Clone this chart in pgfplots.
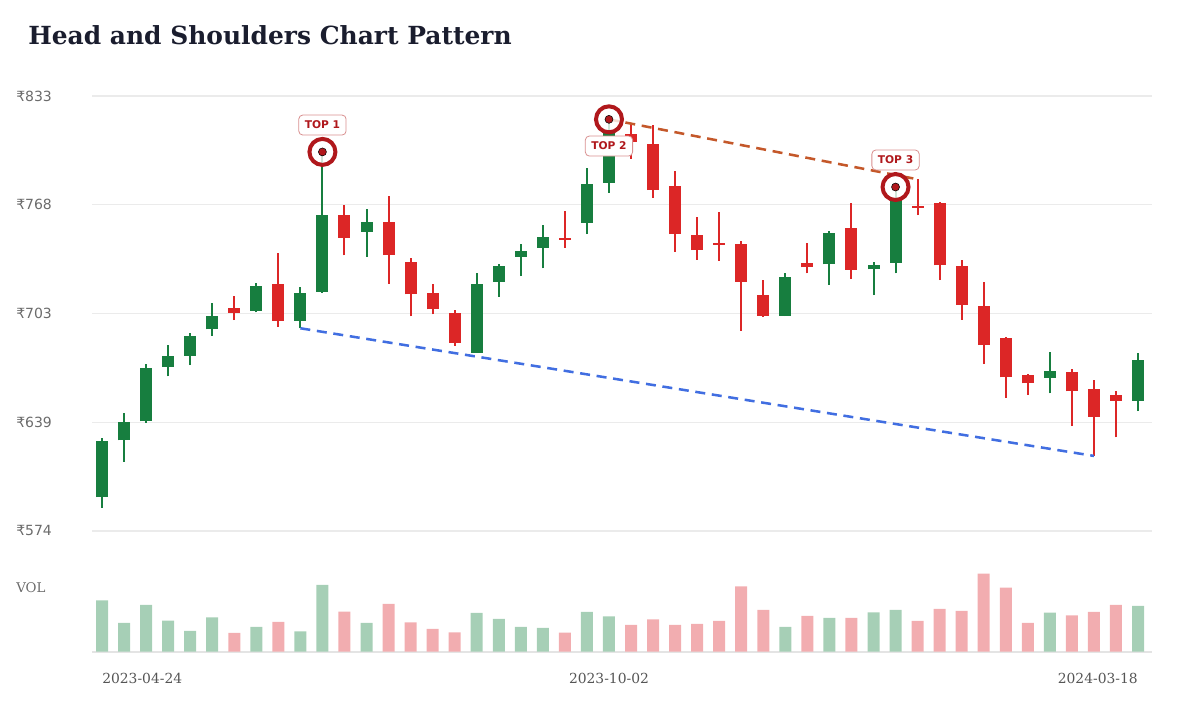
\documentclass[border=0pt]{standalone}
\usepackage{fontspec}
\setmainfont{DejaVu Serif}
\newfontfamily\sansf{DejaVu Sans}
\usepackage{pgfplots}
\usepackage{pgfplotstable}
\pgfplotsset{compat=1.18}

\definecolor{ctitle}{HTML}{1A1D2E}
\definecolor{ctick}{HTML}{6B6B6B}
\definecolor{cdate}{HTML}{555555}
\definecolor{cgrid}{HTML}{EBEBEB}
\definecolor{cbase}{HTML}{E4E4E4}
\definecolor{cgreen}{HTML}{177E3F}
\definecolor{cred}{HTML}{DC2626}
\definecolor{cvgreen}{HTML}{A6CFB6}
\definecolor{cvred}{HTML}{F2ADB0}
\definecolor{cmark}{HTML}{B0181C}
\definecolor{clabbd}{HTML}{D99090}
\definecolor{cblue}{HTML}{416EE1}
\definecolor{corange}{HTML}{C4582A}

% weekly candles, i = week index from 2023-04-24
\pgfplotstableread{
i  O     H     L     C     V
0  594.2 629.4 587.7 627.6 51.4
1  628.0 644.4 615.3 638.7 28.7
2  639.3 673.6 638.5 671.0 46.7
3  671.5 684.6 666.1 678.0 31.0
4  678.4 691.7 672.8 690.1 20.7
5  694.1 709.6 690.1 702.0 34.4
7  705.2 721.8 704.2 720.1 24.7
9  699.2 719.3 694.7 715.9 20.4
10 716.3 799.7 715.8 762.1 66.7
12 752.2 765.5 737.3 758.0 28.7
17 680.2 727.4 680.0 720.9 38.7
18 722.4 733.0 713.5 731.8 32.7
19 737.3 744.9 725.8 740.9 24.7
20 742.5 756.2 730.4 749.0 23.7
22 757.6 790.0 750.8 780.8 39.7
23 781.4 819.1 775.5 812.0 35.4
31 702.2 727.8 702.0 725.4 24.7
33 732.8 752.6 720.5 751.2 33.7
35 729.8 734.0 714.5 732.4 39.4
36 733.7 778.8 727.4 772.0 41.7
43 665.1 680.4 656.0 669.4 39.0
47 651.4 680.2 645.4 675.8 45.7
}\upweeks

\pgfplotstableread{
i  O     H     L     C     V
6  706.8 713.9 699.6 703.8 18.7
8  721.1 739.7 695.6 699.2 29.7
11 762.1 767.9 738.1 748.5 40.0
13 758.0 773.3 721.1 738.3 47.7
14 734.2 736.4 701.8 714.9 29.4
15 715.9 721.1 703.0 706.0 22.7
16 703.6 705.6 684.3 686.1 19.4
21 748.6 764.5 742.7 747.3 19.0
24 810.2 816.1 795.7 805.4 26.7
25 804.2 815.7 772.4 777.0 32.4
26 779.4 788.3 740.3 750.8 26.7
27 750.2 761.1 735.4 741.3 27.7
28 745.4 763.8 734.8 744.4 30.7
29 744.7 746.8 693.3 722.3 65.4
30 714.5 723.4 701.3 702.2 41.7
32 733.6 745.7 727.4 731.0 35.7
34 754.6 769.1 724.0 729.4 33.7
37 767.6 783.4 762.1 766.6 30.7
38 769.5 769.8 723.4 732.2 42.7
39 731.6 735.2 699.8 708.6 40.7
40 708.1 722.3 673.3 684.7 78.0
41 689.1 689.5 653.4 665.5 64.0
42 666.7 667.5 655.0 661.9 28.7
44 668.7 670.3 636.5 657.2 36.4
45 658.4 663.7 618.7 642.1 39.7
46 654.8 657.4 629.8 651.6 46.7
}\downweeks

\pgfplotsset{
  hsbase/.style={
    scale only axis, width=795pt,
    xmin=-0.454, xmax=47.635,
    clip=false,
    axis line style={draw=none},
    tick style={draw=none},
    xtick=\empty,
  },
  % #1 colour, #2 width: only the error bar is drawn
  stick/.style 2 args={draw=none, mark=none,
    error bars/.cd, y dir=plus, y explicit, error mark=none,
    error bar style={draw=#1, line width=#2, solid}},
}

\begin{document}
\begin{tikzpicture}
\path[use as bounding box] (0,0) rectangle (900pt,540pt);

\node[anchor=base west, inner sep=0pt, text=ctitle,
  font=\bfseries\fontsize{18.7}{22}\selectfont] at (21pt,506.8pt)
  {Head and Shoulders Chart Pattern};

% price panel
\begin{axis}[hsbase,
  at={(69pt,141.75pt)}, anchor=south west, height=326.25pt,
  ymin=574, ymax=833,
  ytick={574,638.75,703.5,768.25,833},
  yticklabels={₹574,₹639,₹703,₹768,₹833},
  ymajorgrids, grid style={color=cgrid, line width=0.8pt},
  yticklabel style={anchor=west, inner sep=0pt, xshift=-57pt,
    text=ctick, font=\sansf\fontsize{10.5}{12}\selectfont},
]
% wicks
\addplot[stick={cgreen}{1.5pt}] table[x=i, y=L,
  y error plus expr=\thisrow{H}-\thisrow{L}] {\upweeks};
\addplot[stick={cred}{1.5pt}] table[x=i, y=L,
  y error plus expr=\thisrow{H}-\thisrow{L}] {\downweeks};
% bodies
\addplot[stick={cgreen}{9pt}] table[x=i, y=O,
  y error plus expr=\thisrow{C}-\thisrow{O}] {\upweeks};
\addplot[stick={cred}{9pt}] table[x=i, y=C,
  y error plus expr=\thisrow{O}-\thisrow{C}] {\downweeks};

% trend lines
\addplot[cblue, line width=1.9pt, dash pattern=on 7.5pt off 5pt]
  coordinates {(9,694.7) (45,618.7)};
\addplot[corange, line width=1.9pt, dash pattern=on 7.5pt off 5pt]
  coordinates {(23,819.1) (37,783.4)};

% tops
\addplot[only marks, mark=*, mark size=9.75pt,
  mark options={draw=cmark, fill=white, fill opacity=0.8, line width=3pt}]
  coordinates {(10,799.7) (23,819.1) (36,778.8)};
\addplot[only marks, mark=*, mark size=3pt,
  mark options={draw=none, fill=cmark}]
  coordinates {(10,799.7) (23,819.1) (36,778.8)};

\tikzset{toplab/.style={draw=clabbd, fill=white, rounded corners=3pt,
  line width=0.6pt, text=cmark, inner xsep=4.5pt, inner ysep=0pt,
  minimum height=15pt, font=\sansf\bfseries\fontsize{8}{9}\selectfont}}
\node[toplab] at (axis cs:10,815.7) {TOP 1};
\node[toplab] at (axis cs:23,803.2) {TOP 2};
\node[toplab] at (axis cs:36,794.9) {TOP 3};
\end{axis}

\node[anchor=west, inner sep=0pt, text=ctick,
  font=\fontsize{10}{12}\selectfont] at (12pt,99pt) {VOL};

% volume panel
\begin{axis}[hsbase,
  at={(69pt,51.225pt)}, anchor=south west, height=67.5pt,
  ymin=0, ymax=90,
  ytick={0}, yticklabels={},
  ymajorgrids, grid style={color=cbase, line width=1.5pt},
]
\addplot[ybar, bar width=9pt, bar shift=0pt, fill=cvgreen, draw=none]
  table[x=i, y=V] {\upweeks};
\addplot[ybar, bar width=9pt, bar shift=0pt, fill=cvred, draw=none]
  table[x=i, y=V] {\downweeks};

\tikzset{datelab/.style={inner sep=0pt, text=cdate,
  font=\fontsize{10.4}{12}\selectfont, yshift=-23.7pt}}
\node[datelab, anchor=base west] at (axis cs:0,0) {2023-04-24};
\node[datelab, anchor=base] at (axis cs:23,0) {2023-10-02};
\node[datelab, anchor=base east] at (axis cs:47,0) {2024-03-18};
\end{axis}
\end{tikzpicture}
\end{document}
